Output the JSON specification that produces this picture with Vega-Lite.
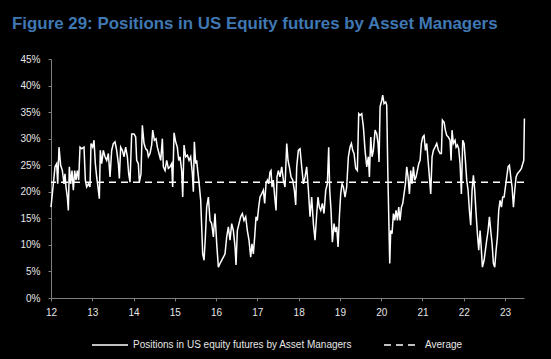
{
  "$schema": "https://vega.github.io/schema/vega-lite/v6.json",
  "width": 473,
  "height": 239,
  "autosize": {"type": "none"},
  "padding": {"left": 51, "top": 59, "right": 27, "bottom": 61},
  "background": "#000000",
  "title": {
    "text": "Figure 29: Positions in US Equity futures by Asset Managers",
    "anchor": "start",
    "frame": "group",
    "dx": -39,
    "offset": 8,
    "baseline": "alphabetic",
    "font": "Liberation Sans",
    "fontSize": 16.9,
    "fontWeight": "bold",
    "color": "#3f78b3"
  },
  "config": {
    "view": {"stroke": null},
    "axis": {
      "grid": false,
      "domainColor": "#7f7f7f",
      "tickColor": "#7f7f7f",
      "tickSize": 3,
      "labelColor": "#e6e6e6",
      "labelFont": "Liberation Sans",
      "labelFontSize": 10,
      "labelOverlap": false,
      "title": null
    },
    "legend": {
      "labelColor": "#e6e6e6",
      "labelFont": "Liberation Sans",
      "labelFontSize": 10,
      "labelLimit": 0
    }
  },
  "datasets": {
    "series": [
      {"t":12.000,"v":17.1},{"t":12.057,"v":21.5},{"t":12.097,"v":24.7},{"t":12.137,"v":25.3},{"t":12.162,"v":21.5},{"t":12.194,"v":28.4},{"t":12.234,"v":25.0},{"t":12.275,"v":24.0},{"t":12.315,"v":21.5},{"t":12.339,"v":23.4},{"t":12.363,"v":20.9},{"t":12.396,"v":19.0},{"t":12.420,"v":16.5},{"t":12.444,"v":24.7},{"t":12.477,"v":21.5},{"t":12.509,"v":24.0},{"t":12.541,"v":20.3},{"t":12.574,"v":24.0},{"t":12.606,"v":22.2},{"t":12.638,"v":24.0},{"t":12.670,"v":22.2},{"t":12.703,"v":28.4},{"t":12.743,"v":28.1},{"t":12.800,"v":28.4},{"t":12.832,"v":22.2},{"t":12.864,"v":20.9},{"t":12.905,"v":21.5},{"t":12.945,"v":20.9},{"t":12.969,"v":29.1},{"t":13.010,"v":28.4},{"t":13.042,"v":29.7},{"t":13.074,"v":25.3},{"t":13.107,"v":22.8},{"t":13.147,"v":20.3},{"t":13.171,"v":18.7},{"t":13.195,"v":27.8},{"t":13.228,"v":25.3},{"t":13.268,"v":27.8},{"t":13.309,"v":26.6},{"t":13.349,"v":25.9},{"t":13.389,"v":27.2},{"t":13.430,"v":22.8},{"t":13.470,"v":27.8},{"t":13.511,"v":29.1},{"t":13.551,"v":29.4},{"t":13.591,"v":27.8},{"t":13.632,"v":25.3},{"t":13.656,"v":22.5},{"t":13.688,"v":28.4},{"t":13.729,"v":27.8},{"t":13.769,"v":26.6},{"t":13.809,"v":28.4},{"t":13.850,"v":26.6},{"t":13.882,"v":23.4},{"t":13.914,"v":21.8},{"t":13.955,"v":30.9},{"t":14.011,"v":30.9},{"t":14.052,"v":30.3},{"t":14.076,"v":25.9},{"t":14.116,"v":25.3},{"t":14.141,"v":21.8},{"t":14.181,"v":23.4},{"t":14.213,"v":32.5},{"t":14.254,"v":29.1},{"t":14.294,"v":28.1},{"t":14.334,"v":27.8},{"t":14.359,"v":26.6},{"t":14.399,"v":27.2},{"t":14.439,"v":28.8},{"t":14.464,"v":31.6},{"t":14.504,"v":29.7},{"t":14.544,"v":30.0},{"t":14.577,"v":28.4},{"t":14.617,"v":27.2},{"t":14.658,"v":25.9},{"t":14.698,"v":30.0},{"t":14.722,"v":24.7},{"t":14.763,"v":24.0},{"t":14.803,"v":25.9},{"t":14.843,"v":24.4},{"t":14.884,"v":24.7},{"t":14.924,"v":25.3},{"t":14.948,"v":20.9},{"t":14.981,"v":31.1},{"t":15.021,"v":29.4},{"t":15.061,"v":28.4},{"t":15.094,"v":25.9},{"t":15.126,"v":26.6},{"t":15.166,"v":24.0},{"t":15.191,"v":19.0},{"t":15.223,"v":28.8},{"t":15.263,"v":26.6},{"t":15.304,"v":26.9},{"t":15.344,"v":25.9},{"t":15.384,"v":26.6},{"t":15.425,"v":23.4},{"t":15.449,"v":20.0},{"t":15.473,"v":29.4},{"t":15.506,"v":25.3},{"t":15.530,"v":25.9},{"t":15.554,"v":24.0},{"t":15.586,"v":21.8},{"t":15.627,"v":18.4},{"t":15.651,"v":13.4},{"t":15.675,"v":8.3},{"t":15.708,"v":7.1},{"t":15.740,"v":11.5},{"t":15.772,"v":17.1},{"t":15.813,"v":19.0},{"t":15.853,"v":14.6},{"t":15.893,"v":14.0},{"t":15.934,"v":11.5},{"t":15.974,"v":15.9},{"t":16.015,"v":10.2},{"t":16.055,"v":5.8},
      {"t":16.095,"v":6.5},{"t":16.136,"v":7.1},{"t":16.176,"v":7.7},{"t":16.216,"v":8.3},{"t":16.257,"v":11.5},{"t":16.297,"v":13.4},{"t":16.337,"v":10.9},{"t":16.378,"v":14.0},{"t":16.418,"v":12.7},{"t":16.459,"v":9.6},{"t":16.483,"v":6.2},{"t":16.515,"v":12.7},{"t":16.555,"v":14.0},{"t":16.596,"v":15.3},{"t":16.636,"v":15.9},{"t":16.676,"v":14.6},{"t":16.717,"v":15.3},{"t":16.757,"v":12.7},{"t":16.797,"v":10.9},{"t":16.838,"v":7.7},{"t":16.870,"v":10.2},{"t":16.902,"v":8.3},{"t":16.935,"v":11.5},{"t":16.967,"v":15.3},{"t":16.999,"v":14.6},{"t":17.032,"v":17.1},{"t":17.064,"v":19.0},{"t":17.104,"v":19.6},{"t":17.145,"v":20.3},{"t":17.177,"v":17.8},{"t":17.209,"v":21.5},{"t":17.242,"v":22.2},{"t":17.274,"v":21.5},{"t":17.306,"v":23.7},{"t":17.331,"v":24.0},{"t":17.355,"v":20.9},{"t":17.387,"v":22.2},{"t":17.420,"v":19.0},{"t":17.452,"v":16.5},{"t":17.476,"v":22.8},{"t":17.509,"v":24.0},{"t":17.549,"v":22.8},{"t":17.590,"v":24.7},{"t":17.630,"v":22.2},{"t":17.670,"v":20.9},{"t":17.711,"v":29.1},{"t":17.743,"v":25.9},{"t":17.775,"v":24.7},{"t":17.816,"v":22.8},{"t":17.856,"v":22.2},{"t":17.896,"v":20.3},{"t":17.929,"v":17.5},{"t":17.953,"v":24.7},{"t":17.993,"v":27.8},{"t":18.034,"v":28.1},{"t":18.074,"v":24.7},{"t":18.115,"v":21.5},{"t":18.155,"v":22.8},{"t":18.195,"v":24.7},{"t":18.236,"v":20.3},{"t":18.276,"v":15.3},{"t":18.316,"v":19.0},{"t":18.357,"v":14.0},{"t":18.397,"v":10.9},{"t":18.438,"v":15.9},{"t":18.470,"v":19.0},{"t":18.502,"v":17.1},{"t":18.535,"v":16.5},{"t":18.575,"v":17.8},{"t":18.615,"v":15.9},{"t":18.656,"v":20.3},{"t":18.696,"v":21.5},{"t":18.728,"v":28.4},{"t":18.753,"v":20.3},{"t":18.785,"v":16.5},{"t":18.817,"v":10.5},{"t":18.858,"v":14.0},{"t":18.890,"v":12.4},{"t":18.922,"v":13.4},{"t":18.955,"v":9.6},{"t":18.987,"v":15.3},{"t":19.019,"v":19.6},{"t":19.052,"v":21.5},{"t":19.084,"v":20.9},{"t":19.124,"v":19.0},{"t":19.164,"v":20.9},{"t":19.205,"v":26.6},{"t":19.245,"v":28.4},{"t":19.278,"v":29.1},{"t":19.310,"v":27.8},{"t":19.342,"v":27.2},{"t":19.383,"v":24.4},{"t":19.423,"v":24.0},{"t":19.455,"v":34.7},
      {"t":19.488,"v":34.4},{"t":19.529,"v":34.7},{"t":19.569,"v":32.2},{"t":19.609,"v":27.8},{"t":19.650,"v":24.7},{"t":19.690,"v":26.6},{"t":19.714,"v":22.8},{"t":19.747,"v":30.3},{"t":19.779,"v":26.6},{"t":19.811,"v":27.8},{"t":19.852,"v":31.6},{"t":19.892,"v":30.9},{"t":19.924,"v":29.1},{"t":19.948,"v":25.6},{"t":19.973,"v":36.0},{"t":20.013,"v":37.2},{"t":20.037,"v":38.2},{"t":20.069,"v":36.6},{"t":20.110,"v":36.9},{"t":20.134,"v":36.3},{"t":20.158,"v":24.7},{"t":20.183,"v":15.3},{"t":20.207,"v":6.5},{"t":20.231,"v":12.7},{"t":20.263,"v":12.1},{"t":20.296,"v":15.9},{"t":20.328,"v":14.6},{"t":20.360,"v":16.5},{"t":20.393,"v":14.6},{"t":20.425,"v":17.1},{"t":20.457,"v":14.6},{"t":20.490,"v":17.1},{"t":20.522,"v":17.8},{"t":20.554,"v":19.6},{"t":20.587,"v":21.5},{"t":20.619,"v":24.7},{"t":20.651,"v":22.8},{"t":20.684,"v":19.6},{"t":20.716,"v":24.0},{"t":20.748,"v":21.5},{"t":20.780,"v":24.7},{"t":20.813,"v":22.2},{"t":20.845,"v":22.8},{"t":20.877,"v":24.0},{"t":20.910,"v":25.3},{"t":20.942,"v":25.9},{"t":20.974,"v":29.1},{"t":21.006,"v":30.3},{"t":21.039,"v":30.6},{"t":21.071,"v":27.8},{"t":21.103,"v":29.1},{"t":21.136,"v":25.9},{"t":21.168,"v":22.8},{"t":21.200,"v":19.6},{"t":21.233,"v":26.6},{"t":21.265,"v":27.8},{"t":21.305,"v":28.4},{"t":21.346,"v":29.1},{"t":21.386,"v":27.8},{"t":21.426,"v":27.2},{"t":21.458,"v":27.2},{"t":21.483,"v":33.5},{"t":21.523,"v":33.1},{"t":21.555,"v":31.6},{"t":21.588,"v":30.6},{"t":21.628,"v":30.3},{"t":21.668,"v":29.7},{"t":21.693,"v":25.9},{"t":21.717,"v":31.6},{"t":21.749,"v":29.1},{"t":21.790,"v":29.7},{"t":21.814,"v":28.4},{"t":21.846,"v":28.8},{"t":21.878,"v":28.1},{"t":21.911,"v":25.3},{"t":21.943,"v":19.6},{"t":21.975,"v":29.7},{"t":22.008,"v":29.1},{"t":22.040,"v":25.9},{"t":22.072,"v":22.2},{"t":22.105,"v":20.3},{"t":22.137,"v":16.5},{"t":22.169,"v":13.7},{"t":22.202,"v":20.3},{"t":22.234,"v":23.1},{"t":22.266,"v":20.3},{"t":22.299,"v":15.9},{"t":22.331,"v":12.1},{"t":22.363,"v":9.0},{"t":22.396,"v":12.7},{"t":22.428,"v":9.0},{"t":22.452,"v":5.8},{"t":22.493,"v":7.1},{"t":22.525,"v":9.0},{"t":22.557,"v":10.9},{"t":22.590,"v":12.7},{"t":22.622,"v":15.3},{"t":22.654,"v":12.7},{"t":22.687,"v":10.2},{"t":22.719,"v":6.5},{"t":22.751,"v":5.8},{"t":22.784,"v":9.0},{"t":22.816,"v":11.5},{"t":22.848,"v":16.5},{"t":22.881,"v":18.4},{"t":22.913,"v":17.1},{"t":22.945,"v":19.0},{"t":22.978,"v":19.0},{"t":23.010,"v":20.9},{"t":23.042,"v":22.8},{"t":23.074,"v":24.7},{"t":23.107,"v":25.0},{"t":23.139,"v":22.8},{"t":23.171,"v":20.9},{"t":23.204,"v":17.1},{"t":23.236,"v":20.3},{"t":23.268,"v":22.8},{"t":23.301,"v":23.4},{"t":23.333,"v":23.7},{"t":23.365,"v":24.0},{"t":23.397,"v":24.4},{"t":23.430,"v":25.3},{"t":23.454,"v":25.9},{"t":23.470,"v":33.8}
    ],
    "average": [{"avg": 21.8, "series": "Average"}]
  },
  "layer": [
    {
      "data": {"name": "average"},
      "mark": {"type": "rule", "color": "#ffffff", "strokeWidth": 1.5},
      "encoding": {
        "y": {
          "field": "avg",
          "type": "quantitative",
          "scale": {"domain": [0, 45], "nice": false},
          "axis": {"values": [0,5,10,15,20,25,30,35,40,45], "labelExpr": "datum.value + '%'", "labelPadding": 8, "labelFlush": false, "labelOverlap": false}
        },
        "strokeDash": {
          "field": "series",
          "type": "nominal",
          "scale": {"domain": ["Positions in US equity futures by Asset Managers", "Average"], "range": [[1, 0], [7, 5]]},
          "legend": {
            "orient": "none",
            "legendX": 40,
            "legendY": 267,
            "direction": "horizontal",
            "title": null,
            "symbolType": "stroke",
            "symbolStrokeColor": "#ffffff",
            "symbolStrokeWidth": 1.5,
            "symbolSize": 1300,
            "labelOffset": 4,
            "columnPadding": 28
          }
        }
      }
    },
    {
      "data": {"name": "series"},
      "transform": [{"calculate": "'Positions in US equity futures by Asset Managers'", "as": "series"}],
      "mark": {"type": "line", "color": "#ffffff", "strokeWidth": 1.5},
      "encoding": {
        "x": {
          "field": "t",
          "type": "quantitative",
          "scale": {"domain": [12, 23.46], "nice": false, "zero": false},
          "axis": {"values": [12,13,14,15,16,17,18,19,20,21,22,23], "format": "d", "labelPadding": 6, "labelFlush": false}
        },
        "y": {
          "field": "v",
          "type": "quantitative",
          "scale": {"domain": [0, 45], "nice": false},
          "axis": {"values": [0,5,10,15,20,25,30,35,40,45], "labelExpr": "datum.value + '%'", "labelPadding": 8, "labelFlush": false, "labelOverlap": false}
        },
        "strokeDash": {"field": "series", "type": "nominal"}
      }
    }
  ]
}
